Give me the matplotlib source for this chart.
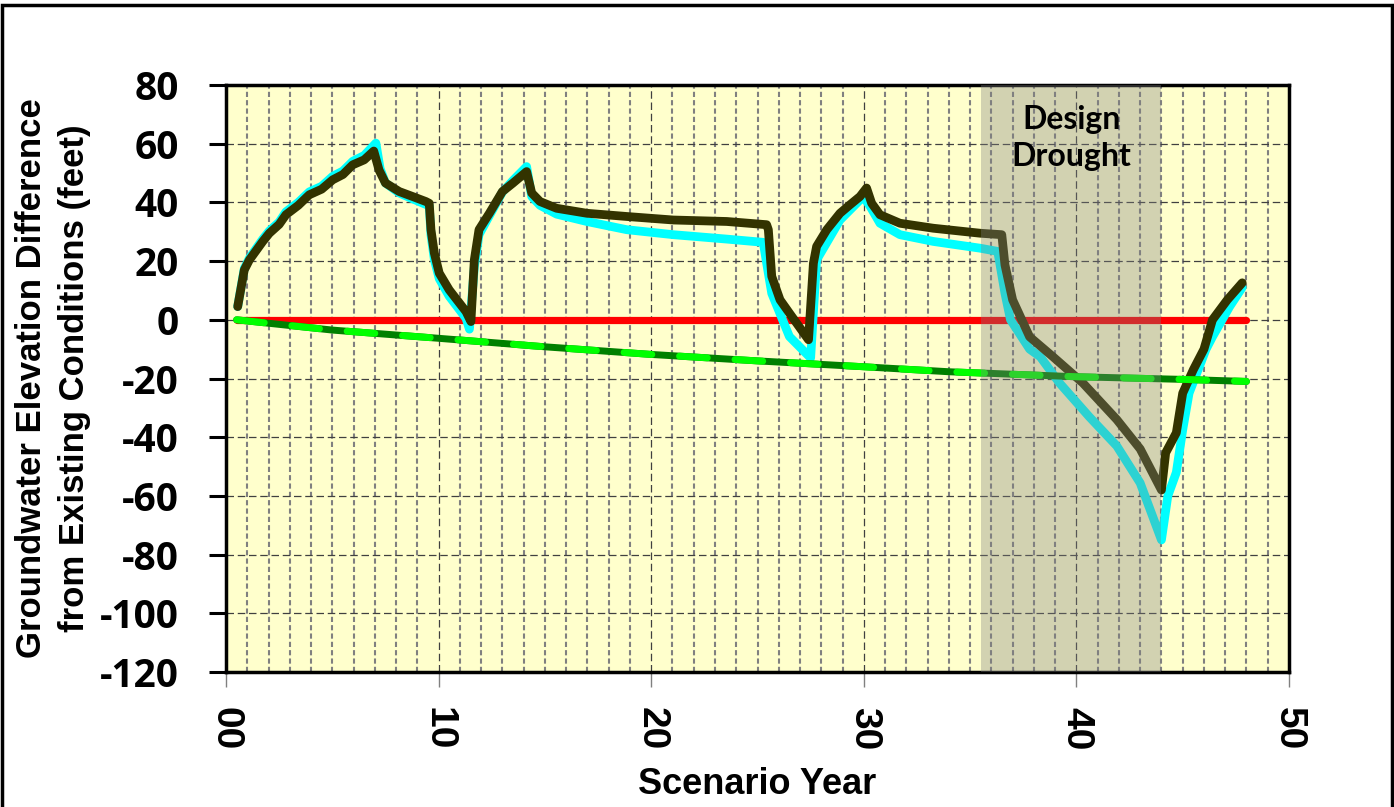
import matplotlib
matplotlib.use("Agg")
import matplotlib.pyplot as plt
from matplotlib.patches import Rectangle
from matplotlib.ticker import MultipleLocator

plt.rcParams["axes.unicode_minus"] = False

# with-project scenario (dark line)
proj_years = [0.55, 0.86, 1.1, 1.73, 2.04, 2.5, 2.82, 3.4, 3.92, 4.5, 5.02, 5.5, 5.96, 6.5, 6.95,
              7.2, 7.5, 8.15, 8.78, 9.4, 9.56, 9.64, 9.8, 10.03, 10.5, 11.29, 11.52,
              11.68, 11.9, 12.39, 13.0, 13.5, 14.14, 14.38, 14.77, 15.55, 16.97, 18.85, 21.04,
              23.55, 25.43, 25.51, 25.67, 26.06, 26.5, 27.4, 27.63, 27.78, 28.26, 28.88, 29.35,
              29.82, 30.13, 30.37, 30.76, 31.7, 33.27, 35.47, 36.49, 36.64, 37.0, 37.8, 38.9,
              40.3, 41.9, 43.0, 44.0, 44.2, 44.7, 45.0, 45.5, 46.0, 46.4, 47.1, 47.8]
proj_diff = [4.5, 17, 20.4, 26.7, 29.5, 32.5, 35.8, 39, 42.6, 44.5, 47.7, 49.5, 52.8, 54.5, 57.5,
             51, 46.6, 43.7, 42, 40.3, 39.7, 30.7, 22.7, 15.9, 10.2, 2.8, -0.6,
             20.4, 30.7, 36.3, 43.7, 46.6, 50.5, 43.2, 40.3, 38, 36.3, 35.2, 34,
             33.5, 32.4, 30.7, 14.8, 6.8, 2.3, -6.8, 19.3, 25, 30.7, 36.3, 39.2,
             42, 44.9, 39.7, 35.8, 32.9, 31.2, 29.5, 29, 18.7, 6.8, -5.8, -12.6,
             -21.5, -34, -44, -58, -45.3, -38.5, -25, -17, -10, 0, 6.8, 12.6]

# alternative scenario (cyan line)
alt_years = [0.55, 0.86, 1.1, 1.73, 2.04, 2.5, 2.82, 3.4, 3.92, 4.5, 5.02, 5.5, 5.96, 6.5, 7.05,
             7.25, 7.5, 8.15, 8.78, 9.4, 9.56, 9.64, 9.8, 10.03, 10.5, 11.29, 11.45,
             11.68, 11.9, 12.39, 13.0, 13.5, 14.14, 14.38, 14.77, 15.55, 16.97, 18.85, 21.04,
             23.55, 25.27, 25.43, 25.67, 26.5, 27.5, 27.78, 28.88, 29.98, 30.3, 30.76, 31.7,
             33.27, 35.47, 36.3, 36.64, 36.9, 37.8, 38.3, 39.2, 40.6, 41.9, 43.0, 44.0,
             44.3, 44.7, 45.0, 45.3, 46.1, 46.4, 47.2, 47.8]
alt_diff = [4.5, 17.5, 21, 27.5, 30.3, 33.3, 36.8, 40, 43.6, 45.5, 48.9, 50.7, 54, 56, 60.2,
            51.5, 46.6, 43.2, 41.2, 39.3, 38.8, 29, 20.5, 14, 8, 0.5, -3.2,
            18, 29, 35.5, 43.5, 47.5, 52.2, 42, 39, 36, 33.5, 30.7, 29,
            27.5, 26.4, 19.3, 9, -5.7, -13, 20.4, 34, 42, 38.6, 32.9, 29,
            26.7, 24.4, 23.3, 9, 0, -10, -12.6, -21.5, -33, -43, -55.6, -75,
            -60, -52, -37.5, -25, -10, -5.8, 4.4, 11]

# existing conditions reference and baseline trend
zero_years = [0.5, 48]
zero_diff = [0, 0]
base_years = [0.5, 5, 10, 15, 20, 25, 30, 34, 40, 45, 48]
base_diff = [0, -3.5, -6.3, -9.2, -11.8, -14, -16, -17.7, -19.4, -20.3, -21]

drought_span = (35.5, 44.0)
y_ticks = list(range(-120, 81, 20))
x_ticks = list(range(0, 51, 10))

fig = plt.figure(figsize=(13.94, 8.07), dpi=100)
ax = fig.add_axes([226 / 1394, 1 - 672 / 807, (1289 - 226) / 1394, (672 - 85) / 807])
ax.set_facecolor("#ffffcc")

ax.plot(zero_years, zero_diff, color="#ff0000", lw=5.2, solid_capstyle="round", zorder=2)
ax.plot(alt_years, alt_diff, color="#00ffff", lw=6.3, solid_capstyle="round",
        solid_joinstyle="round", zorder=3)
ax.plot(proj_years, proj_diff, color="#333300", lw=6.3, solid_capstyle="round",
        solid_joinstyle="round", zorder=4)
ax.plot(base_years, base_diff, color="#008000", lw=5, solid_capstyle="round", zorder=4.5)
ax.plot(base_years, base_diff, color="#00ff00", lw=5, ls=(0, (4, 4)),
        dash_capstyle="round", zorder=4.6)

ax.axvspan(*drought_span, color="#808080", alpha=0.35, lw=0, zorder=5)
ax.text(sum(drought_span) / 2, 62, "Design\nDrought", ha="center", va="center",
        fontsize=23, fontweight="bold", family=["Lato", "DejaVu Sans"],
        linespacing=1.32, zorder=6)

ax.set_xlim(0, 50)
ax.set_ylim(-120, 80)
ax.set_xticks(x_ticks)
ax.set_xticklabels(["%02d" % v for v in x_ticks])
ax.xaxis.set_minor_locator(MultipleLocator(1))
ax.set_yticks(y_ticks)

ax.set_axisbelow(True)
ax.grid(which="minor", axis="x", color="#808080", lw=1.5, ls=(0, (2.5, 1.5)))
ax.grid(which="major", axis="x", color="#404040", lw=0.9, ls=(0, (6, 3)))
ax.grid(which="major", axis="y", color="#404040", lw=0.9, ls=(0, (6, 3)))

for s in ax.spines.values():
    s.set_linewidth(2.5)
    s.set_color("black")

ax.tick_params(axis="y", which="major", length=12, width=2.2, color="black", pad=22)
ax.tick_params(axis="x", which="major", length=11, width=1, color="#808080", pad=14)
ax.tick_params(axis="x", which="minor", length=0)

for lab in ax.get_yticklabels():
    lab.set_fontsize(28)
    lab.set_fontweight("bold")
    lab.set_family(["Open Sans", "DejaVu Sans"])
for lab in ax.get_xticklabels():
    lab.set_fontsize(28)
    lab.set_fontweight("bold")
    lab.set_family(["Liberation Sans", "DejaVu Sans"])
    lab.set_rotation(270)

ax.set_xlabel("Scenario Year", fontsize=26, fontweight="bold",
              family=["Liberation Sans", "DejaVu Sans"], labelpad=12)
ax.set_ylabel("Groundwater Elevation Difference\nfrom Existing Conditions (feet)",
              fontsize=25, fontweight="bold",
              family=["Liberation Sans", "DejaVu Sans"],
              linespacing=1.4)
ax.yaxis.set_label_coords(-0.127, 0.5)

# outer frame of the figure
fig.patches.append(Rectangle((2 / 1394, -0.05), 1390 / 1394, 1.05 - 5 / 807,
                             transform=fig.transFigure, fill=False, lw=2.5,
                             edgecolor="black", clip_on=False))

fig.savefig("out.png", dpi=100)
